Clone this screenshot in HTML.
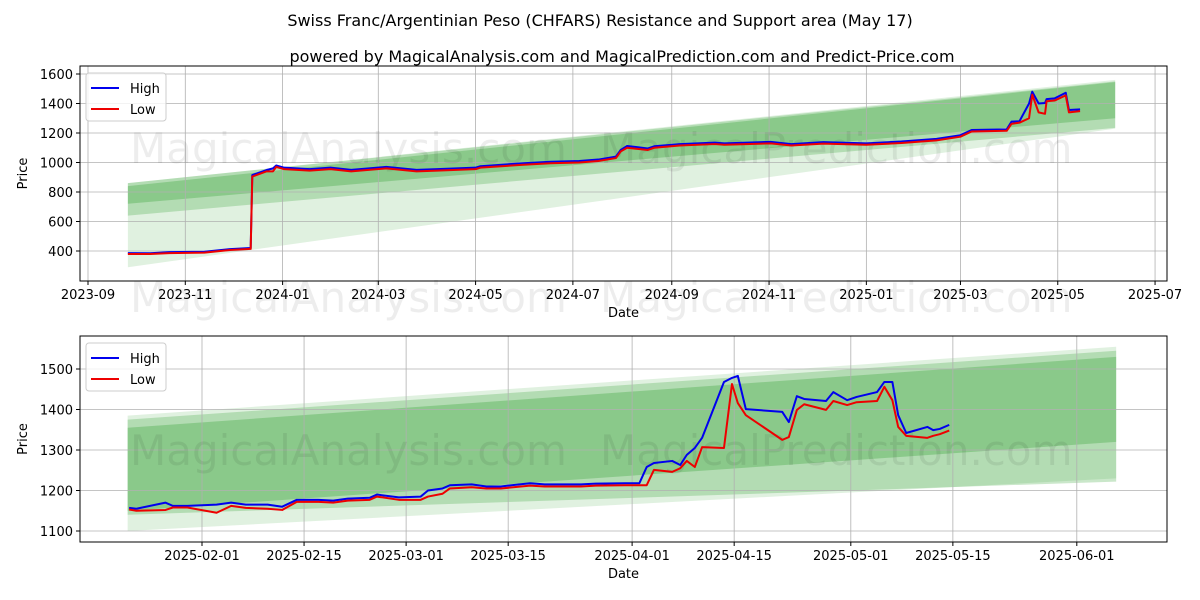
<!DOCTYPE html>
<html><head><meta charset="utf-8"><style>
body{margin:0;background:#fff;}
svg{display:block;font-family:"DejaVu Sans","Liberation Sans",sans-serif;}
</style></head><body>
<svg id="chart" width="1200" height="600">
<text x="600" y="26" text-anchor="middle" font-size="16">Swiss Franc/Argentinian Peso (CHFARS) Resistance and Support area (May 17)</text>
<text x="622" y="62" text-anchor="middle" font-size="16">powered by MagicalAnalysis.com and MagicalPrediction.com and Predict-Price.com</text>
</svg>
<script>
// ---- top chart data (day offsets from 2023-09-01) ----
const topDays=[25,39,51,73,89,102,103,112,116,118,123,139,152,165,187,206,219,243,246,273,290,308,320,331,334,338,351,355,371,393,399,428,441,461,488,510,532,547,554,576,579,584,590,592,596,600,601,606,613,615,622];
const topHigh=[386,385,392,395,413,420,915,949,960,980,965,955,965,950,970,950,955,965,975,995,1005,1010,1020,1040,1085,1112,1095,1110,1125,1135,1130,1140,1125,1138,1130,1142,1160,1185,1220,1225,1277,1280,1400,1480,1400,1403,1430,1435,1473,1356,1360];
const topLow=[380,380,386,389,407,414,905,940,940,970,955,945,955,940,960,940,945,955,965,985,995,1000,1010,1030,1075,1100,1085,1100,1115,1125,1120,1130,1115,1128,1120,1132,1150,1175,1210,1215,1262,1270,1300,1460,1340,1330,1415,1420,1455,1340,1348];
const topTickLabels=["2023-09","2023-11","2024-01","2024-03","2024-05","2024-07","2024-09","2024-11","2025-01","2025-03","2025-05","2025-07"];
const topTickDays=[0,61,122,182,243,304,366,427,488,547,608,669];
const topYTicks=[400,600,800,1000,1200,1400,1600];
const topBandDays=[25,644];
const topBandsLo=[[290,1230],[640,1235],[720,1300]];
const topBandsHi=[[860,1560],[860,1550],[840,1545]];
// ---- bottom chart data (day offsets from 2025-02-01) ----
const botDays=[-10,-9,-5,-4,-2,2,4,6,9,11,13,16,18,20,23,24,27,30,31,33,34,37,39,41,45,47,52,54,58,60,61,62,64.5,65.6,66.5,67.6,68.6,71.6,72.7,73.5,74.6,79.6,80.5,81.6,82.6,85.6,86.6,88.5,89.8,92.6,93.6,94.7,95.5,96.6,99.5,100.3,101.2,102.5];
const botHigh=[1157,1155,1170,1162,1162,1165,1170,1165,1165,1160,1177,1177,1175,1180,1182,1190,1183,1185,1200,1205,1213,1215,1210,1210,1218,1215,1215,1217,1218,1218,1258,1268,1273,1263,1288,1305,1330,1468,1478,1483,1401,1394,1369,1433,1426,1421,1443,1423,1431,1443,1468,1468,1386,1342,1357,1349,1352,1362];
const botLow=[1153,1150,1152,1158,1158,1145,1162,1157,1155,1152,1172,1172,1170,1175,1177,1185,1177,1177,1185,1192,1205,1208,1205,1205,1212,1210,1210,1212,1213,1213,1213,1251,1246,1255,1273,1258,1307,1305,1463,1416,1386,1325,1332,1399,1413,1399,1421,1411,1418,1421,1456,1423,1357,1335,1330,1335,1339,1348];
const botTickLabels=["2025-02-01","2025-02-15","2025-03-01","2025-03-15","2025-04-01","2025-04-15","2025-05-01","2025-05-15","2025-06-01"];
const botTickDays=[0,14,28,42,59,73,89,103,120];
const botYTicks=[1100,1200,1300,1400,1500];
const botBandDays=[-10.2,125.4];
const botBandsLo=[[1100,1230],[1140,1222],[1150,1320]];
const botBandsHi=[[1385,1555],[1375,1545],[1355,1530]];

const NS="http://www.w3.org/2000/svg";
const svg=document.getElementById('chart');
function mk(tag,attrs,parent){const e=document.createElementNS(NS,tag);for(const k in attrs)e.setAttribute(k,attrs[k]);(parent||svg).appendChild(e);return e;}

function drawPanel(cfg){
  const g=mk('g',{});
  
  
  const X=d=>cfg.x0+(d-cfg.d0)*cfg.pxDay;
  const Y=v=>cfg.yRef+(cfg.vRef-v)*cfg.pxVal;
  const alphas=[0.15,0.25,0.3];
  cfg.bandsLo.forEach((lo,i)=>{
    const hi=cfg.bandsHi[i];
    const xa=X(cfg.bandDays[0]),xb=X(cfg.bandDays[1]);
    const p=mk('polygon',{points:`${xa},${Y(hi[0])} ${xb},${Y(hi[1])} ${xb},${Y(lo[1])} ${xa},${Y(lo[0])}`,fill:'#2ca02c','fill-opacity':alphas[i]},g);
    
    
  });
  cfg.tickDays.forEach((d,i)=>{
    const x=X(d);
    mk('line',{x1:x,x2:x,y1:cfg.top,y2:cfg.bottom,stroke:'#b0b0b0','stroke-width':0.8},g);
    mk('line',{x1:x,x2:x,y1:cfg.bottom,y2:cfg.bottom+4,stroke:'#000'},g);
    const t=mk('text',{x:x,y:cfg.bottom+18,'text-anchor':'middle','font-size':13},g);
    t.textContent=cfg.tickLabels[i];
    
    
  });
  cfg.yTicks.forEach(v=>{
    const y=Y(v);
    mk('line',{x1:cfg.left,x2:cfg.right,y1:y,y2:y,stroke:'#b0b0b0','stroke-width':0.8},g);
    mk('line',{x1:cfg.left-4,x2:cfg.left,y1:y,y2:y,stroke:'#000'},g);
    const t=mk('text',{x:cfg.left-7,y:y+5,'text-anchor':'end','font-size':13},g);
    t.textContent=v;
    
    
  });
  cfg.marks.forEach(m=>{
    const t=mk('text',{x:m[0],y:m[1],'font-size':42,fill:'#000','fill-opacity':0.07},g);
    t.textContent=m[2];
    
    
  });
  const hp=mk('polyline',{points:cfg.days.map((d,i)=>X(d)+','+Y(cfg.high[i])).join(' '),fill:'none',stroke:'#0000ee','stroke-width':2,'stroke-linejoin':'round'},g);
  
  
  const lp=mk('polyline',{points:cfg.days.map((d,i)=>X(d)+','+Y(cfg.low[i])).join(' '),fill:'none',stroke:'#ee0000','stroke-width':2,'stroke-linejoin':'round'},g);
  
  
  mk('rect',{x:cfg.left,y:cfg.top,width:cfg.right-cfg.left,height:cfg.bottom-cfg.top,fill:'none',stroke:'#000','stroke-width':1},g);
  const xt=mk('text',{x:(cfg.left+cfg.right)/2,y:cfg.bottom+36,'text-anchor':'middle','font-size':13},g);
  xt.textContent='Date';
  
  
  const cy=(cfg.top+cfg.bottom)/2;
  const yt=mk('text',{x:27,y:cy,'text-anchor':'middle','font-size':13,transform:`rotate(-90 27 ${cy})`},g);
  yt.textContent='Price';
  
  
  const lg=mk('g',{},g);
  
  
  const ly=cfg.top+7;
  mk('rect',{x:cfg.left+6,y:ly,width:80,height:48,rx:3,fill:'#fff','fill-opacity':0.8,stroke:'#ccc'},lg);
  [['High','#0000ee'],['Low','#ee0000']].forEach((e,i)=>{
    const yy=ly+15+i*21;
    const en=mk('g',{},lg);
    
    
    mk('line',{x1:cfg.left+11,x2:cfg.left+39,y1:yy,y2:yy,stroke:e[1],'stroke-width':2},en);
    const t=mk('text',{x:cfg.left+50,y:yy+5,'font-size':13},en);
    t.textContent=e[0];
  });
}

drawPanel({name:'top-panel',left:80,right:1167,top:66,bottom:281,x0:88,d0:0,pxDay:1.595,yRef:74,vRef:1600,pxVal:0.1475,
  days:topDays,high:topHigh,low:topLow,tickDays:topTickDays,tickLabels:topTickLabels,yTicks:topYTicks,
  bandDays:topBandDays,bandsLo:topBandsLo,bandsHi:topBandsHi,
  marks:[[130,163,'MagicalAnalysis.com'],[600,163,'MagicalPrediction.com'],[130,312,'MagicalAnalysis.com'],[600,312,'MagicalPrediction.com']]});
drawPanel({name:'bottom-panel',left:80,right:1167,top:336,bottom:542,x0:202,d0:0,pxDay:7.29,yRef:369,vRef:1500,pxVal:0.405,
  days:botDays,high:botHigh,low:botLow,tickDays:botTickDays,tickLabels:botTickLabels,yTicks:botYTicks,
  bandDays:botBandDays,bandsLo:botBandsLo,bandsHi:botBandsHi,
  marks:[[130,465,'MagicalAnalysis.com'],[600,465,'MagicalPrediction.com']]});
</script>
</body></html>
